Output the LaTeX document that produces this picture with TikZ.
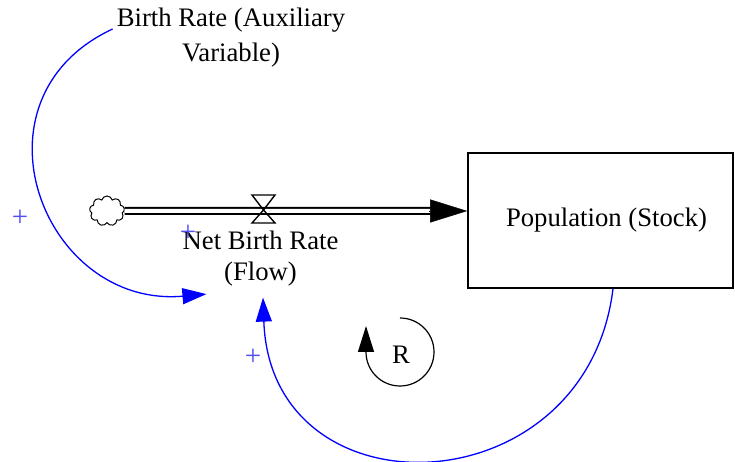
\documentclass[tikz,border=0pt]{standalone}
\usepackage{fontspec}
\setmainfont{Liberation Serif}
\usetikzlibrary{arrows.meta,positioning,shapes.symbols}
\definecolor{causal}{HTML}{0000FF}
\definecolor{polarity}{HTML}{5050F0}
\tikzset{
  vartext/.style={align=center, font=\fontsize{26.7}{31}\selectfont, inner sep=0pt},
  stockbox/.style={vartext, draw, line width=1.6pt, minimum width=265pt, minimum height=135pt},
  source/.style={draw, cloud, cloud puffs=9, aspect=1.2, minimum width=35pt, minimum height=30pt, inner sep=0pt, line width=1pt},
  pipe/.style={draw, line width=2pt, double=white, double distance=4pt},
  pipehead/.style={-{Triangle[length=37pt,width=23pt]}, line width=0.4pt},
  valvepart/.style={draw, line width=1.4pt},
  link/.style={-{Triangle[length=24pt,width=16pt]}, causal, line width=1.3pt},
  sign/.style={polarity, font=\fontsize{29}{29}\selectfont, inner sep=0pt},
  loopline/.style={-{Triangle[length=26pt,width=16pt]}, line width=1.2pt},
}

\begin{document}
\begin{tikzpicture}[x=1pt, y=1pt]
    \useasboundingbox (0,0) rectangle (735,462);

    % stock, source and flow
    \node[stockbox] (stock) at (600.5,241.5) {\hspace*{12pt}Population (Stock)};
    \node[source] (src) at (107,251) {};
    \coordinate (valve) at (263.5,252);
    \draw[pipe] (src.east) -- ([xshift=-30pt]src.center -| stock.west);
    \draw[pipehead] ([xshift=-38pt]src.center -| stock.west) -- (src.center -| stock.west);
    \draw[valvepart] (valve) -- ++(-11.5,15) -- ++(23,0) -- cycle
                     (valve) -- ++(-11.5,-13) -- ++(23,0) -- cycle;
    \node[vartext, below=20.5pt of valve, xshift=-3pt] (nbr) {Net Birth Rate\\(Flow)};

    % auxiliary
    \node[vartext, font=\fontsize{26.7}{35}\selectfont] (br) at (231,424) {Birth Rate (Auxiliary\\Variable)};

    % causal links
    \draw[link] ([shift={(-4pt,9pt)}]br.west) to[out=205, in=185, looseness=1.5]
                ([shift={(24pt,-8pt)}]nbr.south west);
    \draw[link] ([xshift=12.5pt]stock.south) to[out=-97, in=-88, looseness=1.62]
                ([shift={(2.5pt,-11.5pt)}]nbr.south);

    % polarities
    \node[sign] (plusa) at (20,244) {+};
    \node[sign] (plusb) at (253,105) {+};
    \node[sign] (plusc) at (188,229) {+};

    % loop marker
    \node[vartext] (loopR) at (401,107) {R};
    \draw[loopline] ([shift={(-1pt,37pt)}]loopR.center) arc[start angle=90, end angle=-180, radius=34]
                    -- ++(0,26);
  \end{tikzpicture}
\end{document}
